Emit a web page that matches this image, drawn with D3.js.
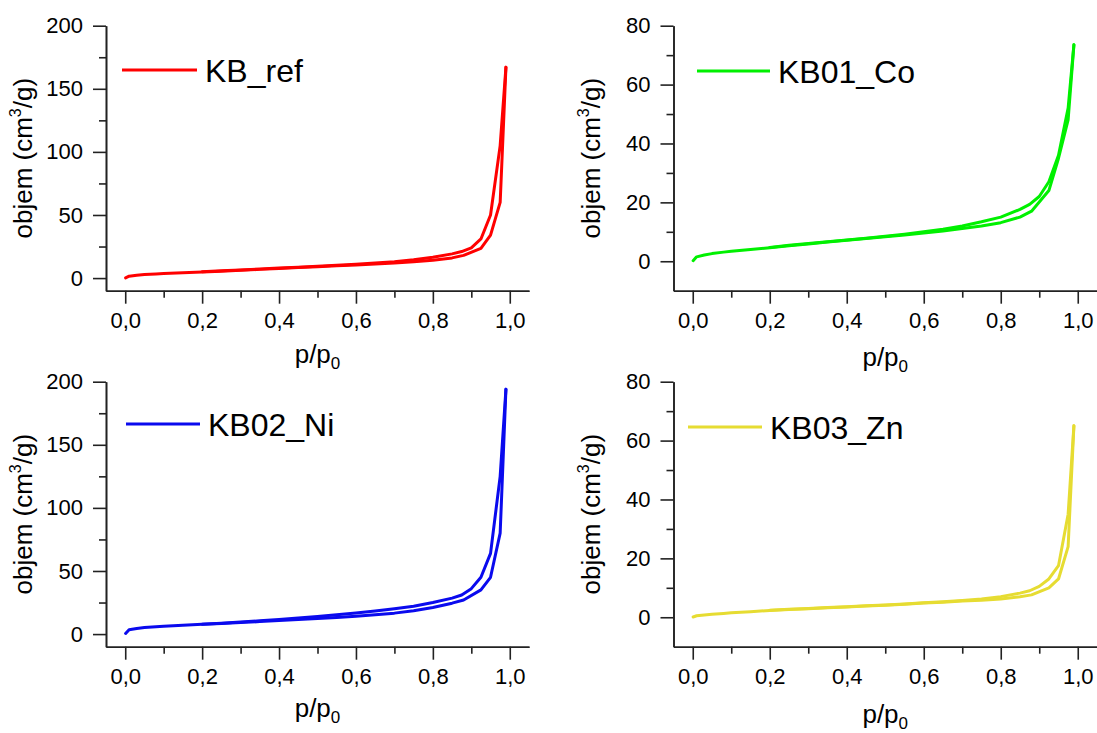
<!DOCTYPE html>
<html>
<head>
<meta charset="utf-8">
<script src="https://cdn.jsdelivr.net/npm/d3@7"></script>
<style>
  html, body { margin: 0; padding: 0; background: #fff; }
  svg { display: block; }
  text { font-family: Arial, "Liberation Sans", sans-serif; fill: #000; }
</style>
</head>
<body>
<svg id="chart" width="1097" height="733"></svg>
<script>
// Relative pressure points (adsorption going up, desorption coming back)
const pressureAds = [0.001, 0.01, 0.03, 0.05, 0.08, 0.1, 0.15, 0.2, 0.25, 0.3, 0.35, 0.4, 0.45, 0.5, 0.55, 0.6, 0.65, 0.7, 0.75, 0.8, 0.85, 0.88, 0.925, 0.95, 0.975, 0.99];
const pressureDes = [0.99, 0.975, 0.95, 0.925, 0.9, 0.875, 0.85, 0.8, 0.75, 0.7, 0.65, 0.6, 0.55, 0.5, 0.45, 0.4, 0.35, 0.3, 0.25, 0.2];

// Adsorbed volume, cm3/g
const kbRefAds = [0.2, 1.5, 2.3, 2.8, 3.3, 3.6, 4.2, 4.8, 5.5, 6.2, 6.9, 7.6, 8.3, 9.0, 9.7, 10.4, 11.2, 12.0, 13.0, 14.2, 16.0, 18.0, 23.5, 34, 60, 167];
const kbRefDes = [167, 105, 50, 31, 24, 21, 19.2, 16.5, 14.5, 13.0, 11.9, 10.9, 10.1, 9.3, 8.6, 7.9, 7.2, 6.5, 5.8, 5.0];

const kb01CoAds = [0.2, 1.5, 2.1, 2.6, 3.1, 3.4, 4.0, 4.6, 5.3, 5.9, 6.5, 7.1, 7.7, 8.3, 8.9, 9.6, 10.3, 11.1, 12.0, 13.1, 15.0, 17.0, 24.0, 35.0, 48, 73.5];
const kb01CoDes = [73.5, 52, 36, 27.0, 22, 19.3, 17.6, 15.0, 13.4, 12.0, 10.9, 10.0, 9.2, 8.5, 7.8, 7.2, 6.6, 6.0, 5.4, 4.7];

const kb02NiAds = [0.5, 3.5, 4.5, 5.2, 5.9, 6.3, 7.0, 7.7, 8.4, 9.1, 9.9, 10.7, 11.5, 12.3, 13.2, 14.2, 15.3, 16.6, 18.5, 21.0, 24.5, 27, 35, 45, 80, 194];
const kb02NiDes = [194, 125, 64, 45, 36, 31, 28.5, 25, 22, 20, 18.2, 16.7, 15.3, 14.0, 12.8, 11.6, 10.5, 9.5, 8.6, 7.8];

const kb03ZnAds = [0.1, 0.5, 0.8, 1.0, 1.3, 1.5, 1.9, 2.3, 2.6, 2.9, 3.2, 3.5, 3.8, 4.1, 4.4, 4.8, 5.1, 5.5, 5.8, 6.2, 7.0, 7.6, 10.0, 13, 24, 65];
const kb03ZnDes = [65, 35, 17.5, 13, 10.5, 9.0, 8.2, 7.0, 6.2, 5.7, 5.3, 4.9, 4.5, 4.2, 3.9, 3.6, 3.3, 3.0, 2.7, 2.4];

// Sample names and axis ticks
const sampleNames = ["KB_ref", "KB01_Co", "KB02_Ni", "KB03_Zn"];
const xMajorTicks = [0, 0.2, 0.4, 0.6, 0.8, 1.0];
const xMinorTicks = [0.1, 0.3, 0.5, 0.7, 0.9];
const yMajorTicksLarge = [0, 50, 100, 150, 200];
const yMinorTicksLarge = [25, 75, 125, 175];
const yMajorTicksSmall = [0, 20, 40, 60, 80];
const yMinorTicksSmall = [10, 30, 50, 70];

const panels = [
  { name: sampleNames[0], ads: kbRefAds, des: kbRefDes, color: "#ff0000",
    left: 106, top: 25.7, width: 423, yMax: 200, yMajor: yMajorTicksLarge, yMinor: yMinorTicksLarge,
    legend: { x1: 122, x2: 197, y: 70, tx: 205 }, xTitleDy: 72 },
  { name: sampleNames[1], ads: kb01CoAds, des: kb01CoDes, color: "#00f000",
    left: 673.5, top: 25.7, width: 423.5, yMax: 80, yMajor: yMajorTicksSmall, yMinor: yMinorTicksSmall,
    legend: { x1: 697, x2: 770, y: 71, tx: 778 }, xTitleDy: 75 },
  { name: sampleNames[2], ads: kb02NiAds, des: kb02NiDes, color: "#0a0aee",
    left: 106, top: 381.7, width: 423, yMax: 200, yMajor: yMajorTicksLarge, yMinor: yMinorTicksLarge,
    legend: { x1: 126, x2: 200, y: 424, tx: 208 }, xTitleDy: 70 },
  { name: sampleNames[3], ads: kb03ZnAds, des: kb03ZnDes, color: "#e6dc32",
    left: 673.5, top: 381.7, width: 423.5, yMax: 80, yMajor: yMajorTicksSmall, yMinor: yMinorTicksSmall,
    legend: { x1: 688, x2: 762, y: 427, tx: 770 }, xTitleDy: 76 }
];

const plotHeight = 265;
const svg = d3.select("#chart");
const fmtX = v => d3.format(".1f")(v).replace(".", ",");

panels.forEach(p => {
  const x = d3.scaleLinear().domain([-0.05, 1.05]).range([p.left, p.left + p.width]);
  const y = d3.scaleLinear().domain([-10, p.yMax]).range([p.top + plotHeight, p.top]);
  const bottom = p.top + plotHeight;
  const g = svg.append("g");

  // x axis: major ticks with labels, minor ticks without
  g.append("g").attr("transform", `translate(0,${bottom})`)
    .call(d3.axisBottom(x).tickValues(xMinorTicks).tickSize(7).tickSizeOuter(0).tickFormat(""));
  g.append("g").attr("transform", `translate(0,${bottom})`)
    .call(d3.axisBottom(x).tickValues(xMajorTicks).tickSize(13).tickSizeOuter(0).tickPadding(9).tickFormat(fmtX));

  // y axis
  g.append("g").attr("transform", `translate(${p.left},0)`)
    .call(d3.axisLeft(y).tickValues(p.yMinor).tickSize(7).tickSizeOuter(0).tickFormat(""));
  g.append("g").attr("transform", `translate(${p.left},0)`)
    .call(d3.axisLeft(y).tickValues(p.yMajor).tickSize(13).tickSizeOuter(0).tickPadding(10).tickFormat(d3.format("d")));

  g.selectAll(".domain").attr("stroke", "#222").attr("stroke-width", 1.6);
  g.selectAll(".tick line").attr("stroke", "#222").attr("stroke-width", 1.6);
  g.selectAll(".tick text").attr("font-size", 22).attr("font-family", "Arial, 'Liberation Sans', sans-serif").attr("fill", "#000");

  // isotherm branches
  const line = d3.line().x(d => x(d[0])).y(d => y(d[1]));
  const adsPts = pressureAds.map((pp, i) => [pp, p.ads[i]]);
  const desPts = pressureDes.map((pp, i) => [pp, p.des[i]]);
  [adsPts, desPts].forEach(pts => {
    g.append("path").datum(pts)
      .attr("fill", "none").attr("stroke", p.color)
      .attr("stroke-width", 3).attr("stroke-linejoin", "round").attr("stroke-linecap", "round")
      .attr("d", line);
  });

  // legend
  g.append("line").attr("x1", p.legend.x1).attr("x2", p.legend.x2)
    .attr("y1", p.legend.y).attr("y2", p.legend.y)
    .attr("stroke", p.color).attr("stroke-width", 3);
  g.append("text").attr("x", p.legend.tx).attr("y", p.legend.y + 11.5)
    .attr("font-size", 32).text(p.name);

  // axis titles
  const yt = g.append("text")
    .attr("transform", `translate(${p.left - 74},${p.top + plotHeight / 2}) rotate(-90)`)
    .attr("text-anchor", "middle").attr("font-size", 26);
  yt.append("tspan").text("objem (cm");
  yt.append("tspan").attr("font-size", 16).attr("dy", -11).text("3");
  yt.append("tspan").attr("dy", 11).text("/g)");

  const xt = g.append("text")
    .attr("x", p.left + p.width / 2).attr("y", bottom + p.xTitleDy)
    .attr("text-anchor", "middle").attr("font-size", 26);
  xt.append("tspan").text("p/p");
  xt.append("tspan").attr("font-size", 17).attr("dy", 6).text("0");
});
</script>
</body>
</html>
